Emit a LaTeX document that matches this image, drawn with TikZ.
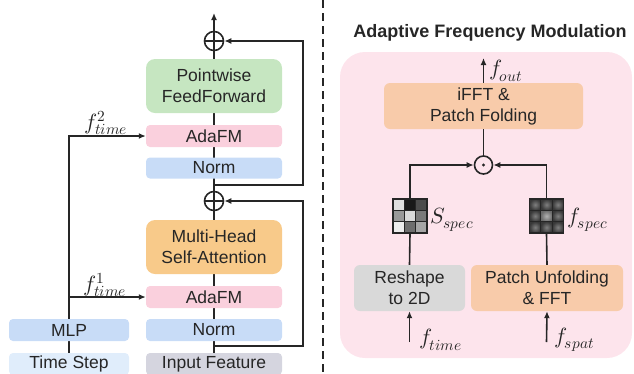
\documentclass[tikz,border=0pt]{standalone}
\usepackage{fontspec}
\usepackage{unicode-math}
\setmainfont{Liberation Sans}
\setmathfont{Latin Modern Math}
\usetikzlibrary{arrows.meta}
\definecolor{cGreen}{HTML}{C6E6C1}
\definecolor{cPink}{HTML}{FAD0DD}
\definecolor{cBlue}{HTML}{C8DCF7}
\definecolor{cOrange}{HTML}{F8CA8A}
\definecolor{cTS}{HTML}{E0EDFB}
\definecolor{cInp}{HTML}{D5D5DF}
\definecolor{cBg}{HTML}{FDE4EC}
\definecolor{cPeach}{HTML}{F8CBAA}
\definecolor{cGray}{HTML}{D9D9D9}
\definecolor{cInk}{HTML}{262626}
\pgfdeclarelayer{back}
\pgfdeclarelayer{bg}
\pgfsetlayers{back,bg,main}
\tikzset{
  blk/.style={rounded corners=4pt, minimum width=136pt, minimum height=22pt, inner sep=0pt,
    font=\fontsize{17.5}{21}\selectfont, text=cInk, align=center},
  bigblk/.style={blk, rounded corners=9pt, minimum height=54pt},
  ln/.style={line width=1.6pt, draw=cInk},
  arr/.style={ln, -{Latex[length=7pt,width=6pt]}},
  sumc/.style={circle, draw=cInk, line width=1.6pt, minimum size=19pt, inner sep=0pt},
  pluscross/.style={path picture={\draw[line width=1.4pt, cInk]
      (path picture bounding box.north) -- (path picture bounding box.south)
      (path picture bounding box.west) -- (path picture bounding box.east);}},
  lab/.style={font=\fontsize{22}{24}\selectfont, inner sep=0pt, text=cInk},
  gridbox/.style={minimum size=34pt, inner sep=0pt, draw=cInk, line width=1.5pt}
}
\begin{document}
\begin{tikzpicture}[x=1pt,y=-1pt]
\useasboundingbox (0,0) rectangle (634,373);
\clip (0,0) rectangle (634,373);
% ---------------- left: transformer block ----------------
\node[sumc, pluscross] (plus2) at (214,41) {};
\node[sumc, pluscross] (plus1) at (214,201) {};
\node[bigblk, fill=cGreen] (pff) at (214,86) {Pointwise\\FeedForward};
\node[blk, fill=cPink] (ada2) at (214,136) {AdaFM};
\node[blk, fill=cBlue, minimum height=21pt] (norm2) at (214,168) {Norm};
\node[bigblk, fill=cOrange] (mhsa) at (214,247) {Multi-Head\\Self-Attention};
\node[blk, fill=cPink] (ada1) at (214,297) {AdaFM};
\node[blk, fill=cBlue] (norm1) at (214,330) {Norm};
\node[blk, fill=cInp] (inp) at (214,364) {Input Feature};
\node[blk, fill=cBlue, minimum width=120pt] (mlp) at (69,330) {MLP};
\node[blk, fill=cTS, minimum width=120pt] (ts) at (69,364) {Time Step};
\coordinate (top) at (214,13);
\coordinate (r1a) at (214,346);
\coordinate (r1b) at (303,346);
\coordinate (r1c) at (303,201);
\coordinate (r2a) at (214,185);
\coordinate (r2b) at (303,185);
\coordinate (r2c) at (303,41);
\coordinate (t2) at (69,136);
\coordinate (t1) at (69,297);
\begin{pgfonlayer}{bg}
\draw[ln] (inp.north) -- (plus1.south);
\draw[ln] (plus1.north) -- (plus2.south);
\draw[arr] (plus2.north) -- (top);
\draw[arr] (r1a) -- (r1b) -- (r1c) -- (plus1.east);
\draw[arr] (r2a) -- (r2b) -- (r2c) -- (plus2.east);
\draw[ln] (ts.north) -- (mlp.south);
\draw[arr] (mlp.north) -- (t2) -- (ada2.west);
\draw[arr] (t1) -- (ada1.west);
\end{pgfonlayer}
\node[lab] (lt2) at (106,123) {$f_{time}^{2}$};
\node[lab] (lt1) at (105,285) {$f_{time}^{1}$};
% ---------------- divider ----------------
\coordinate (d0) at (323,0);
\coordinate (d1) at (323,373);
\draw[line width=1.8pt, cInk, dash pattern=on 8pt off 5pt] (d0) -- (d1);
% ---------------- right: AdaFM ----------------
\node[font=\fontsize{18}{20}\selectfont\bfseries, text=cInk, inner sep=0pt] (title) at (490,33) {Adaptive Frequency Modulation};
\begin{pgfonlayer}{back}
\fill[cBg, rounded corners=25pt] (340,52) rectangle (632,358);
\end{pgfonlayer}
\node[blk, fill=cPeach, minimum width=199pt, minimum height=46pt, rounded corners=6pt] (ifft) at (483.5,106) {iFFT \&\\Patch Folding};
\node[sumc, minimum size=18pt] (dot) at (483.5,165) {};
\fill[cInk] (dot.center) circle (1.6pt);
\node[blk, fill=cGray, minimum width=111pt, minimum height=46pt, rounded corners=6pt] (resh) at (409.5,288) {Reshape\\to 2D};
\node[blk, fill=cPeach, minimum width=152pt, minimum height=46pt, rounded corners=6pt] (puf) at (547,288) {Patch Unfolding\\\& FFT};
% S_spec grid
\foreach \c [count=\i from 0] in {13,90,70,40,15,52,7,57,35}{
  \pgfmathtruncatemacro{\col}{mod(\i,3)}
  \pgfmathtruncatemacro{\row}{int(\i/3)}
  \fill[black!\c] (393+\col*11.33, 199+\row*11.33) rectangle ++(11.33,11.33);
}
\node[gridbox] (sg) at (410,216) {};
\draw[cInk, line width=1.3pt] (393+11.33,199) -- (393+11.33,233) (393+22.67,199) -- (393+22.67,233)
  (393,199+11.33) -- (427,199+11.33) (393,199+22.67) -- (427,199+22.67);
% f_spec grid
\foreach \i in {0,...,8}{
  \pgfmathtruncatemacro{\col}{mod(\i,3)}
  \pgfmathtruncatemacro{\row}{int(\i/3)}
  \ifnum\i=4
    \shade[inner color=black!30, outer color=black!58] (529.5+\col*11.33, 199+\row*11.33) rectangle ++(11.33,11.33);
  \else
    \shade[inner color=black!50, outer color=black!78] (529.5+\col*11.33, 199+\row*11.33) rectangle ++(11.33,11.33);
  \fi
}
\node[gridbox] (fg) at (546.5,216) {};
\draw[cInk, line width=1.3pt] (529.5+11.33,199) -- (529.5+11.33,233) (529.5+22.67,199) -- (529.5+22.67,233)
  (529.5,199+11.33) -- (563.5,199+11.33) (529.5,199+22.67) -- (563.5,199+22.67);
\node[lab, anchor=west] (sl) at (430,220) {$S_{spec}$};
\node[lab, anchor=west] (fl) at (567,220) {$f_{spec}$};
\coordinate (lj) at (410,165);
\coordinate (rj) at (546.5,165);
\coordinate (fo) at (483.5,58);
\coordinate (ft) at (409.5,342);
\coordinate (fs) at (546.5,342);
\draw[ln] (resh.north) -- (sg.south);
\draw[arr] (sg.north) -- (lj) -- (dot.west);
\draw[ln] (puf.north) -- (fg.south);
\draw[arr] (fg.north) -- (rj) -- (dot.east);
\draw[ln] (ifft.south) -- (dot.north);
\draw[arr] (ifft.north) -- (fo);
\draw[arr] (ft) -- (resh.south);
\draw[arr] (fs) -- (puf.south);
\node[lab, anchor=west] (fol) at (489,71) {$f_{out}$};
\node[lab, anchor=west] (ftl) at (419,340) {$f_{time}$};
\node[lab, anchor=west] (fsl) at (554,340) {$f_{spat}$};
\end{tikzpicture}
\end{document}
